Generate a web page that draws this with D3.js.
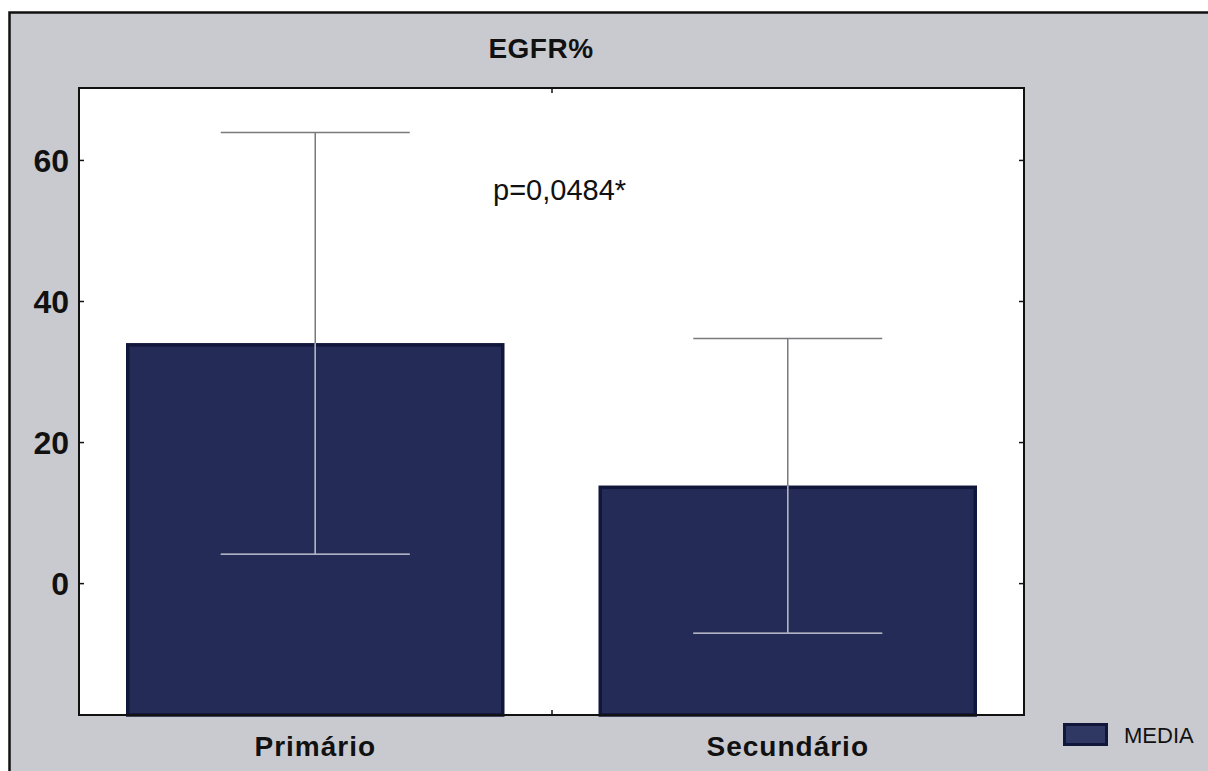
<!DOCTYPE html>
<html>
<head>
<meta charset="utf-8">
<script src="https://cdn.jsdelivr.net/npm/d3@7"></script>
<style>
  html, body { margin: 0; padding: 0; background: #ffffff; }
  svg { display: block; }
</style>
</head>
<body>
<div id="chart"></div>
<script>
// Group means and standard deviations of EGFR%
const categories = ["Primário", "Secundário"];
const means = [34.0, 13.8];
const sds = [29.9, 20.9];
const yTicks = [0, 20, 40, 60];
const title = "EGFR%";
const pLabel = "p=0,0484*";
const legendLabel = "MEDIA";

const W = 1208, H = 771;
const plot = { left: 79, top: 88, right: 1024, bottom: 715 };

const svg = d3.select("#chart").append("svg")
  .attr("width", W).attr("height", H);

// outer panel
svg.append("rect")
  .attr("x", 9.5).attr("y", 12.5)
  .attr("width", W + 20).attr("height", H + 20)
  .attr("fill", "#c9cacf").attr("stroke", "#111").attr("stroke-width", 2.5);

const x = d3.scaleBand()
  .domain(categories)
  .range([plot.left, plot.right])
  .paddingInner(0.2).paddingOuter(0.1);

const y = d3.scaleLinear()
  .domain([-18.7, 70.2])
  .range([plot.bottom, plot.top]);

// plot background
svg.append("rect")
  .attr("x", plot.left).attr("y", plot.top)
  .attr("width", plot.right - plot.left).attr("height", plot.bottom - plot.top)
  .attr("fill", "#ffffff");

const data = categories.map((c, i) => ({ c, m: means[i], sd: sds[i] }));

// bars rise from the bottom of the plot frame
const barFill = "#242b57", barEdge = "#11163b";
svg.append("g").selectAll("rect").data(data).join("rect")
  .attr("x", d => x(d.c) + 1.5)
  .attr("y", d => y(d.m) + 1.5)
  .attr("width", x.bandwidth() - 3)
  .attr("height", d => y.range()[0] - y(d.m) - 1.5)
  .attr("fill", barFill).attr("stroke", barEdge).attr("stroke-width", 3.5);

// clip paths for the part of each whisker lying over its bar
const defs = svg.append("defs");
defs.append("clipPath").attr("id", "barClip")
  .selectAll("rect").data(data).join("rect")
  .attr("x", d => x(d.c))
  .attr("y", d => y(d.m))
  .attr("width", x.bandwidth())
  .attr("height", d => y.range()[0] - y(d.m));

function drawWhiskers(g, color) {
  const cap = x.bandwidth() / 4;
  const cx = d => x(d.c) + x.bandwidth() / 2;
  g.selectAll("line.v").data(data).join("line").attr("class", "v")
    .attr("x1", cx).attr("x2", cx)
    .attr("y1", d => y(d.m + d.sd)).attr("y2", d => y(d.m - d.sd))
    .attr("stroke", color).attr("stroke-width", 1.5);
  g.selectAll("line.hi").data(data).join("line").attr("class", "hi")
    .attr("x1", d => cx(d) - cap).attr("x2", d => cx(d) + cap)
    .attr("y1", d => y(d.m + d.sd)).attr("y2", d => y(d.m + d.sd))
    .attr("stroke", color).attr("stroke-width", 1.5);
  g.selectAll("line.lo").data(data).join("line").attr("class", "lo")
    .attr("x1", d => cx(d) - cap).attr("x2", d => cx(d) + cap)
    .attr("y1", d => y(d.m - d.sd)).attr("y2", d => y(d.m - d.sd))
    .attr("stroke", color).attr("stroke-width", 1.5);
}
drawWhiskers(svg.append("g"), "#7a7a7e");
drawWhiskers(svg.append("g").attr("clip-path", "url(#barClip)"), "#aeb2c6");

// plot frame
svg.append("rect")
  .attr("x", plot.left).attr("y", plot.top)
  .attr("width", plot.right - plot.left).attr("height", plot.bottom - plot.top)
  .attr("fill", "none").attr("stroke", "#111").attr("stroke-width", 2);

// inward ticks on all four sides
const tickLen = 5;
const yAxisL = d3.axisLeft(y).tickValues(yTicks).tickSize(-tickLen).tickPadding(10);
const gL = svg.append("g").attr("transform", `translate(${plot.left},0)`).call(yAxisL);
gL.select(".domain").remove();
gL.selectAll(".tick line").attr("stroke", "#111").attr("stroke-width", 1.5);
gL.selectAll(".tick text")
  .attr("font-family", "'Liberation Sans', Arial, sans-serif")
  .attr("font-weight", "bold").attr("font-size", 32).attr("fill", "#111")
  .attr("dy", "0.36em");

const yAxisR = d3.axisRight(y).tickValues(yTicks).tickSize(-tickLen).tickFormat("");
const gR = svg.append("g").attr("transform", `translate(${plot.right},0)`).call(yAxisR);
gR.select(".domain").remove();
gR.selectAll(".tick line").attr("stroke", "#111").attr("stroke-width", 1.5);

// category separator ticks (between bands)
const boundary = [x(categories[1]) - x.step() * x.paddingInner() / 2];
const xb = d3.scaleIdentity().domain([plot.left, plot.right]);
const gB = svg.append("g").attr("transform", `translate(0,${plot.bottom})`)
  .call(d3.axisBottom(xb).tickValues(boundary).tickSize(-tickLen).tickFormat(""));
gB.select(".domain").remove();
gB.selectAll(".tick line").attr("stroke", "#111").attr("stroke-width", 1.5);
const gT = svg.append("g").attr("transform", `translate(0,${plot.top})`)
  .call(d3.axisTop(xb).tickValues(boundary).tickSize(-tickLen).tickFormat(""));
gT.select(".domain").remove();
gT.selectAll(".tick line").attr("stroke", "#111").attr("stroke-width", 1.5);

// category labels
const gX = svg.append("g").attr("transform", `translate(0,${plot.bottom})`)
  .call(d3.axisBottom(x).tickSize(0).tickPadding(0));
gX.select(".domain").remove();
gX.selectAll(".tick text")
  .attr("y", 41).attr("dy", 0)
  .attr("font-family", "'Liberation Sans', Arial, sans-serif")
  .attr("font-weight", "bold").attr("font-size", 28)
  .attr("letter-spacing", 1).attr("fill", "#111");

// title
svg.append("text")
  .attr("x", 541).attr("y", 58)
  .attr("text-anchor", "middle")
  .attr("font-family", "'Liberation Sans', Arial, sans-serif")
  .attr("font-weight", "bold").attr("font-size", 28).attr("letter-spacing", 0.5)
  .attr("fill", "#111").text(title);

// significance note
svg.append("text")
  .attr("x", 493).attr("y", 200)
  .attr("font-family", "'Liberation Sans', Arial, sans-serif")
  .attr("font-size", 29).attr("fill", "#111").text(pLabel);

// legend
svg.append("rect")
  .attr("x", 1064.5).attr("y", 724.5).attr("width", 42).attr("height", 20)
  .attr("fill", "#2f3763").attr("stroke", barEdge).attr("stroke-width", 3);
svg.append("text")
  .attr("x", 1124).attr("y", 743)
  .attr("font-family", "'Liberation Sans', Arial, sans-serif")
  .attr("font-size", 22).attr("fill", "#111").text(legendLabel);
</script>
</body>
</html>
